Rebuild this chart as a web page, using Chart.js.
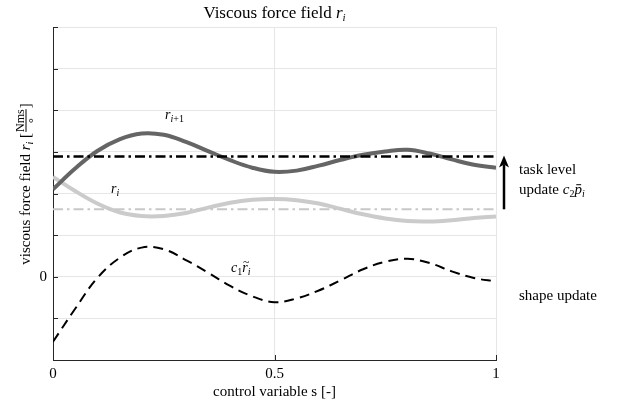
<!DOCTYPE html>
<html>
<head>
<meta charset="utf-8">
<script src="https://cdn.jsdelivr.net/npm/chart.js@4/dist/chart.umd.min.js"></script>
<style>
html,body{margin:0;padding:0;background:#fff;}
#wrap{width:630px;height:405px;position:relative;}
</style>
</head>
<body>
<div id="wrap"><canvas id="c" width="630" height="405"></canvas></div>
<script>
// ---- data ----
const sVals  = [0,0.05,0.10,0.15,0.20,0.25,0.30,0.35,0.40,0.45,0.50,0.55,0.60,0.65,0.70,0.75,0.80,0.85,0.90,0.95,1.00];
const rNext  = [2.10,2.60,3.02,3.30,3.44,3.41,3.24,3.02,2.80,2.62,2.52,2.55,2.67,2.81,2.93,3.01,3.05,2.96,2.82,2.69,2.62];
const rCur   = [2.40,2.06,1.76,1.55,1.46,1.46,1.53,1.66,1.78,1.85,1.87,1.84,1.76,1.63,1.50,1.40,1.34,1.33,1.36,1.41,1.45];
const cTilde = [-1.56,-0.77,-0.03,0.45,0.70,0.66,0.40,0.10,-0.22,-0.47,-0.61,-0.52,-0.33,-0.08,0.18,0.36,0.43,0.33,0.13,-0.03,-0.11];
const rCurMean  = 1.62;
const rNextMean = 2.89;
const xTicks = [0, 0.5, 1];
const yRange = [-2, 6];

const pts = arr => sVals.map((s,i)=>({x:s,y:arr[i]}));
const flat = v => [{x:0,y:v},{x:1,y:v}];

const SERIF = '"Liberation Serif", "DejaVu Serif", serif';

function richWidth(ctx, parts){
  let w=0;
  for(const p of parts){ ctx.font=(p.it?'italic ':'')+p.sz+'px '+SERIF; w+=ctx.measureText(p.t).width; }
  return w;
}
function drawRich(ctx, parts, x, y, align){
  ctx.save();
  ctx.textBaseline='alphabetic';
  ctx.textAlign='left';
  const w = richWidth(ctx, parts);
  let cx = align==='center' ? x - w/2 : (align==='right' ? x - w : x);
  for(const p of parts){
    ctx.font=(p.it?'italic ':'')+p.sz+'px '+SERIF;
    ctx.fillStyle = p.col || '#000';
    const dy = p.dy||0;
    ctx.fillText(p.t, cx, y+dy);
    const tw = ctx.measureText(p.t).width;
    if(p.tilde){
      ctx.font = (p.sz*0.85)+'px '+SERIF;
      ctx.fillText('~', cx+tw*0.15, y+dy-p.sz*0.42);
    }
    if(p.bar){
      ctx.fillRect(cx+tw*0.25, y+dy-p.sz*0.62, tw*0.65, 1);
    }
    cx += tw;
  }
  ctx.restore();
}

const textPlugin = {
  id:'texts',
  afterDatasetsDraw(chart){
    const ctx = chart.ctx;
    const xs = chart.scales.x, ys = chart.scales.y, a = chart.chartArea;
    // inward tick marks
    ctx.save();
    ctx.strokeStyle='#262626'; ctx.lineWidth=1;
    for(let v=yRange[0]; v<=yRange[1]; v++){
      const py = Math.round(ys.getPixelForValue(v))+0.5;
      ctx.beginPath(); ctx.moveTo(a.left, py); ctx.lineTo(a.left+5, py); ctx.stroke();
    }
    for(const v of xTicks){
      const px = Math.round(xs.getPixelForValue(v))+0.5;
      ctx.beginPath(); ctx.moveTo(px, a.bottom); ctx.lineTo(px, a.bottom-5); ctx.stroke();
    }
    ctx.restore();

    // arrow (task level update)
    const ax = a.right + 8;
    const y0 = ys.getPixelForValue(rCurMean), y1 = ys.getPixelForValue(rNextMean);
    ctx.save();
    ctx.strokeStyle='#000'; ctx.fillStyle='#000'; ctx.lineWidth=2.5;
    ctx.beginPath(); ctx.moveTo(ax, y0); ctx.lineTo(ax, y1+8); ctx.stroke();
    ctx.beginPath(); ctx.moveTo(ax, y1-1); ctx.lineTo(ax-5, y1+11); ctx.lineTo(ax, y1+8); ctx.lineTo(ax+5, y1+11); ctx.closePath(); ctx.fill();
    ctx.restore();

    // title
    drawRich(ctx, [{t:'Viscous force field ',sz:17},{t:'r',it:true,sz:17},{t:'i',it:true,sz:11,dy:3}], (a.left+a.right)/2, 18, 'center');

    // curve labels
    drawRich(ctx, [{t:'r',it:true,sz:14},{t:'i',it:true,sz:10,dy:3},{t:'+1',sz:10,dy:3}], xs.getPixelForValue(0.253), ys.getPixelForValue(3.88)+4, 'left');
    drawRich(ctx, [{t:'r',it:true,sz:14},{t:'i',it:true,sz:10,dy:3}], xs.getPixelForValue(0.131), ys.getPixelForValue(2.12)+4, 'left');
    drawRich(ctx, [{t:'c',it:true,sz:14},{t:'1',sz:10,dy:3},{t:'r',it:true,sz:14,tilde:true},{t:'i',it:true,sz:10,dy:3}], xs.getPixelForValue(0.402), ys.getPixelForValue(0.22)+4, 'left');

    // right side labels
    const tx = a.right + 23;
    drawRich(ctx, [{t:'task level',sz:15}], tx, ys.getPixelForValue(2.58)+5, 'left');
    drawRich(ctx, [{t:'update ',sz:15},{t:'c',it:true,sz:15},{t:'2',sz:10,dy:3},{t:'p',it:true,sz:15,bar:true},{t:'i',it:true,sz:10,dy:3}], tx, ys.getPixelForValue(2.12)+5, 'left');
    drawRich(ctx, [{t:'shape update',sz:15}], tx, ys.getPixelForValue(-0.43)+5, 'left');

    // x axis label
    drawRich(ctx, [{t:'control variable s [-]',sz:15}], (a.left+a.right)/2, 396, 'center');

    // y axis label (rotated)
    ctx.save();
    ctx.translate(30, 184);
    ctx.rotate(-Math.PI/2);
    const parts = [{t:'viscous force field ',sz:15},{t:'r',it:true,sz:15},{t:'i',it:true,sz:10,dy:3},{t:' [',sz:15}];
    ctx.font = '12px '+SERIF;
    const fracW = ctx.measureText('Nms').width;
    const tail = [{t:']',sz:15}];
    const total = richWidth(ctx, parts) + fracW + 2 + richWidth(ctx, tail);
    let sx = -total/2;
    drawRich(ctx, parts, sx, 0, 'left');
    sx += richWidth(ctx, parts);
    ctx.fillStyle='#000';
    ctx.font='12px '+SERIF; ctx.textAlign='left'; ctx.textBaseline='alphabetic';
    ctx.fillText('Nms', sx+1, -6);
    ctx.fillRect(sx+1, -4.5, fracW, 1);
    ctx.fillText('\u00b0', sx+1+fracW/2-2.5, 7);
    sx += fracW + 2;
    drawRich(ctx, tail, sx, 0, 'left');
    ctx.restore();
  }
};

new Chart(document.getElementById('c'), {
  type:'line',
  data:{
    datasets:[
      {label:'rNextMean', data:flat(rNextMean), borderColor:'#000', borderWidth:2.5, borderDash:[10,4,2.5,4], pointRadius:0, order:0},
      {label:'rCurMean', data:flat(rCurMean), borderColor:'#c8c8c8', borderWidth:2, borderDash:[10,4,2.5,4], pointRadius:0, order:1},
      {label:'rNext', data:pts(rNext), borderColor:'#656565', borderWidth:4, pointRadius:0, tension:0.4, order:2},
      {label:'rCur', data:pts(rCur), borderColor:'#cbcbcb', borderWidth:4, pointRadius:0, tension:0.4, order:3},
      {label:'cTilde', data:pts(cTilde), borderColor:'#000', borderWidth:2, borderDash:[10,6], pointRadius:0, tension:0.4, order:4}
    ]
  },
  options:{
    responsive:false, animation:false, devicePixelRatio:1,
    layout:{padding:{top:27, right:134, left:0, bottom:0}},
    plugins:{legend:{display:false}, tooltip:{enabled:false}, title:{display:false}},
    scales:{
      x:{type:'linear', min:0, max:1,
         afterBuildTicks(s){ s.ticks = xTicks.map(v=>({value:v})); },
         afterFit(s){ s.height = 45; },
         grid:{color:'#e6e6e6', drawTicks:false},
         border:{color:'#262626', width:1},
         ticks:{padding:5, color:'#000', font:{family:SERIF, size:15}, maxRotation:0,
                callback:v=> v===0?'0':(v===1?'1':String(v))}},
      y:{type:'linear', min:yRange[0], max:yRange[1],
         afterFit(s){ s.width = 53; },
         grid:{color:'#e6e6e6', drawTicks:false},
         border:{color:'#262626', width:1},
         ticks:{stepSize:1, padding:6, color:'#000', font:{family:SERIF, size:15},
                callback:v=> v===0?'0':''}}
    }
  },
  plugins:[textPlugin]
});
</script>
</body>
</html>
